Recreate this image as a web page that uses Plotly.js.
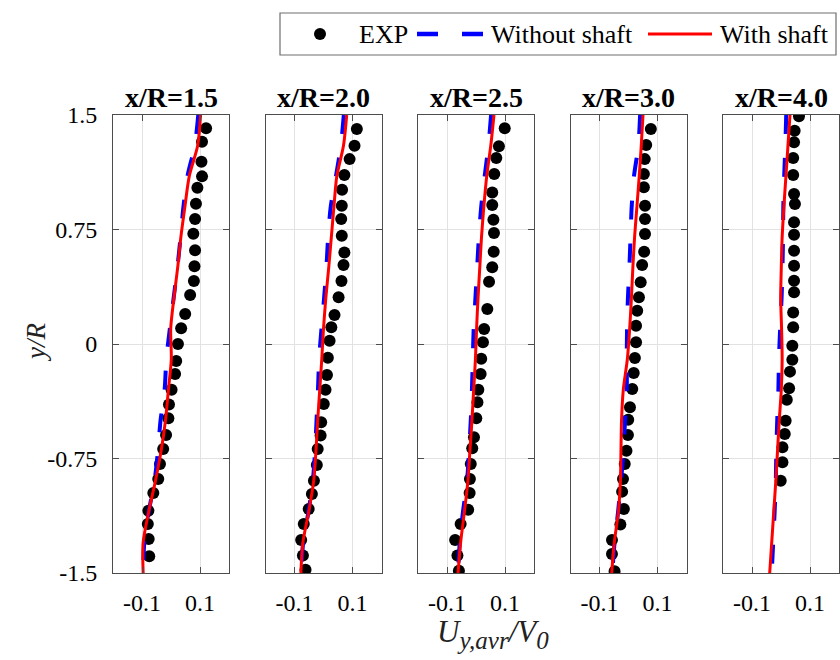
<!DOCTYPE html>
<html>
<head>
<meta charset="utf-8">
<script src="https://cdn.plot.ly/plotly-3.0.1.min.js"></script>
<style>
  html, body { margin: 0; padding: 0; background: #fff; }
  #chart { width: 840px; height: 660px; }
</style>
</head>
<body>
<div id="chart"></div>
<script>
// Downstream stations
const stations = ['x/R=1.5', 'x/R=2.0', 'x/R=2.5', 'x/R=3.0', 'x/R=4.0'];

// Axis ticks
const yTicks = [-1.5, -0.75, 0, 0.75, 1.5];
const yTickText = ['-1.5', '-0.75', '0', '0.75', '1.5'];
const xTicks = [-0.1, 0.1];
const xTickText = ['-0.1', '0.1'];

// Measured profiles (EXP): y/R and U_y,avr/V0
const expY1 = [1.413, 1.325, 1.194, 1.098, 1.024, 0.919, 0.819, 0.722, 0.614, 0.509, 0.413, 0.321, 0.196, 0.103, 0.0, -0.112, -0.196, -0.299, -0.397, -0.487, -0.596, -0.688, -0.786, -0.884, -0.976, -1.092, -1.179, -1.277, -1.391];
const expU1 = [0.121, 0.107, 0.105, 0.107, 0.091, 0.086, 0.083, 0.077, 0.083, 0.081, 0.079, 0.066, 0.049, 0.035, 0.024, 0.018, 0.014, 0.002, -0.007, -0.009, -0.017, -0.027, -0.038, -0.044, -0.061, -0.078, -0.080, -0.077, -0.075];

const expY2 = [1.408, 1.299, 1.211, 1.107, 1.011, 0.906, 0.819, 0.709, 0.600, 0.517, 0.413, 0.306, 0.190, 0.109, 0.022, -0.090, -0.203, -0.299, -0.393, -0.513, -0.600, -0.688, -0.792, -0.895, -0.982, -1.081, -1.179, -1.284, -1.386, -1.478];
const expU2 = [0.115, 0.107, 0.090, 0.072, 0.064, 0.063, 0.061, 0.063, 0.072, 0.069, 0.062, 0.052, 0.038, 0.027, 0.021, 0.015, 0.012, 0.007, 0.001, -0.008, -0.010, -0.020, -0.023, -0.033, -0.040, -0.051, -0.068, -0.077, -0.071, -0.062];

const expY3 = [1.413, 1.295, 1.218, 1.113, 0.993, 0.910, 0.814, 0.727, 0.604, 0.502, 0.408, 0.229, 0.098, 0.011, -0.097, -0.196, -0.299, -0.382, -0.487, -0.611, -0.683, -0.786, -0.884, -0.976, -1.085, -1.179, -1.284, -1.386, -1.485];
const expU3 = [0.099, 0.079, 0.070, 0.063, 0.056, 0.056, 0.060, 0.062, 0.061, 0.056, 0.045, 0.039, 0.028, 0.024, 0.018, 0.016, 0.008, 0.005, 0.001, -0.007, -0.013, -0.018, -0.021, -0.022, -0.027, -0.053, -0.072, -0.064, -0.059];

const expY4 = [1.408, 1.303, 1.211, 1.113, 1.026, 0.906, 0.819, 0.720, 0.604, 0.517, 0.404, 0.306, 0.218, 0.120, 0.011, -0.092, -0.190, -0.295, -0.415, -0.496, -0.596, -0.699, -0.786, -0.884, -0.967, -1.081, -1.183, -1.284, -1.375, -1.489];
const expU4 = [0.077, 0.061, 0.056, 0.053, 0.053, 0.057, 0.057, 0.057, 0.054, 0.047, 0.042, 0.036, 0.030, 0.026, 0.026, 0.022, 0.018, 0.013, 0.005, -0.001, -0.002, -0.007, -0.013, -0.019, -0.022, -0.016, -0.028, -0.057, -0.057, -0.048];

const expY5 = [1.491, 1.397, 1.321, 1.218, 1.107, 0.982, 0.917, 0.797, 0.716, 0.611, 0.513, 0.415, 0.339, 0.207, 0.109, -0.011, -0.103, -0.181, -0.290, -0.365, -0.502, -0.589, -0.677, -0.775, -0.895];
const expU5 = [0.062, 0.047, 0.045, 0.042, 0.042, 0.045, 0.048, 0.045, 0.045, 0.045, 0.045, 0.045, 0.045, 0.042, 0.042, 0.039, 0.039, 0.031, 0.028, 0.020, 0.016, 0.013, 0.005, 0.005, -0.001];

// Simulated profiles, sampled at these y/R stations
const modelY = [1.5, 1.3, 1.1, 0.9, 0.7, 0.5, 0.3, 0.1, -0.1, -0.3, -0.5, -0.7, -0.9, -1.1, -1.3, -1.5];

const noShaftU1 = [0.094, 0.082, 0.057, 0.043, 0.033, 0.022, 0.009, -0.004, -0.016, -0.022, -0.036, -0.045, -0.057, -0.077, -0.092, -0.096];
const withShaftU1 = [0.102, 0.092, 0.063, 0.048, 0.034, 0.023, 0.010, -0.001, 0.001, -0.009, -0.019, -0.034, -0.054, -0.077, -0.096, -0.096];

const noShaftU2 = [0.070, 0.060, 0.043, 0.025, 0.016, 0.010, 0.002, -0.007, -0.015, -0.019, -0.024, -0.029, -0.037, -0.052, -0.070, -0.077];
const withShaftU2 = [0.080, 0.069, 0.046, 0.036, 0.027, 0.018, 0.008, 0.000, -0.006, -0.013, -0.020, -0.026, -0.034, -0.051, -0.071, -0.078];

const noShaftU3 = [0.052, 0.043, 0.030, 0.018, 0.010, 0.004, -0.002, -0.008, -0.011, -0.014, -0.018, -0.024, -0.031, -0.045, -0.056, -0.062];
const withShaftU3 = [0.062, 0.051, 0.037, 0.027, 0.019, 0.013, 0.007, 0.002, -0.002, -0.008, -0.014, -0.021, -0.028, -0.040, -0.053, -0.062];

const noShaftU4 = [0.040, 0.034, 0.019, 0.011, 0.007, 0.003, -0.002, -0.005, -0.006, -0.006, -0.012, -0.017, -0.026, -0.036, -0.048, -0.056];
const withShaftU4 = [0.050, 0.044, 0.037, 0.029, 0.021, 0.015, 0.010, 0.004, -0.004, -0.018, -0.024, -0.026, -0.028, -0.035, -0.049, -0.058];

const noShaftU5 = [0.018, 0.015, 0.011, 0.008, 0.007, 0.005, 0.002, -0.003, -0.007, -0.009, -0.013, -0.016, -0.018, -0.022, -0.027, -0.032];
const withShaftU5 = [0.031, 0.024, 0.017, 0.010, 0.004, 0.001, -0.001, 0.002, 0.004, 0.001, -0.006, -0.012, -0.018, -0.025, -0.032, -0.039];

const expY = [expY1, expY2, expY3, expY4, expY5];
const expU = [expU1, expU2, expU3, expU4, expU5];
const noShaftU = [noShaftU1, noShaftU2, noShaftU3, noShaftU4, noShaftU5];
const withShaftU = [withShaftU1, withShaftU2, withShaftU3, withShaftU4, withShaftU5];

// Page geometry (pixels)
const W = 840, H = 660;
const panelLeft0 = 113, panelStep = 152.5, panelWidth = 116;
const plotTop = 115, plotBottom = 573;
const px = v => v / W;
const py = v => 1 - v / H;

const serif = 'Liberation Serif';
const ink = '#000000';
const frame = '#4d4d4d';
const grid = '#e2e2e2';
const blue = '#0000ff';
const red = '#ff0000';

const traces = [];
const layout = {
  width: W, height: H,
  margin: {l: 0, r: 0, t: 0, b: 0, pad: 0},
  paper_bgcolor: '#ffffff',
  plot_bgcolor: '#ffffff',
  showlegend: false,
  font: {family: serif, color: ink},
  annotations: [],
  shapes: []
};

stations.forEach((name, i) => {
  const n = i === 0 ? '' : String(i + 1);
  const xa = 'x' + n, ya = 'y' + n;
  const left = panelLeft0 + i * panelStep;

  traces.push({
    type: 'scatter', mode: 'markers', name: 'EXP',
    x: expU[i], y: expY[i], xaxis: xa, yaxis: ya,
    marker: {color: '#000000', size: 12, line: {width: 0}},
    hoverinfo: 'skip'
  });
  traces.push({
    type: 'scatter', mode: 'lines', name: 'Without shaft',
    x: noShaftU[i], y: modelY, xaxis: xa, yaxis: ya,
    line: {color: blue, width: 4, dash: '19px,24px', shape: 'spline', smoothing: 0.8},
    hoverinfo: 'skip'
  });
  traces.push({
    type: 'scatter', mode: 'lines', name: 'With shaft',
    x: withShaftU[i], y: modelY, xaxis: xa, yaxis: ya,
    line: {color: red, width: 3, shape: 'spline', smoothing: 0.8},
    hoverinfo: 'skip'
  });

  layout['xaxis' + n] = {
    domain: [px(left), px(left + panelWidth)],
    anchor: ya,
    range: [-0.2, 0.2],
    tickmode: 'array', tickvals: xTicks, ticktext: xTickText,
    ticks: 'inside', ticklen: 6, tickwidth: 1, tickcolor: frame,
    showline: true, linecolor: frame, linewidth: 1, mirror: 'ticks',
    showgrid: true, gridcolor: grid, gridwidth: 1,
    zeroline: false,
    tickfont: {family: serif, size: 24, color: ink},
    ticklabelstandoff: 8,
    fixedrange: true
  };
  layout['yaxis' + n] = {
    domain: [py(plotBottom), py(plotTop)],
    anchor: xa,
    range: [-1.5, 1.5],
    tickmode: 'array', tickvals: yTicks, ticktext: yTickText,
    showticklabels: i === 0,
    ticks: 'inside', ticklen: 6, tickwidth: 1, tickcolor: frame,
    showline: true, linecolor: frame, linewidth: 1, mirror: 'ticks',
    showgrid: true, gridcolor: grid, gridwidth: 1,
    zeroline: false,
    tickfont: {family: serif, size: 24, color: ink},
    ticklabelstandoff: 10,
    fixedrange: true
  };

  // station title above each panel
  layout.annotations.push({
    xref: 'paper', yref: 'paper',
    x: px(left + panelWidth / 2), y: py(plotTop),
    xanchor: 'center', yanchor: 'bottom', yshift: 0,
    text: '<b>' + name + '</b>', showarrow: false,
    font: {family: serif, size: 28, color: ink}
  });
});

// Axis titles
layout.annotations.push({
  xref: 'paper', yref: 'paper',
  x: px(493), y: py(634), xanchor: 'center', yanchor: 'middle',
  text: '<i>U</i><sub><span style="font-size:25px"><i>y,avr</i></span></sub><i>/V</i><sub><span style="font-size:25px"><i>0</i></span></sub>',
  showarrow: false,
  font: {family: serif, size: 31, color: '#222'}
});
layout.annotations.push({
  xref: 'paper', yref: 'paper',
  x: px(36), y: py(343), xanchor: 'center', yanchor: 'middle',
  text: '<i>y/R</i>', textangle: -90,
  showarrow: false,
  font: {family: serif, size: 27, color: '#222'}
});

// Legend box
const legY = 34;
layout.shapes.push({
  type: 'rect', xref: 'paper', yref: 'paper',
  x0: px(280), x1: px(836), y0: py(55), y1: py(13),
  line: {color: '#6e6e6e', width: 1.2}, fillcolor: '#ffffff', layer: 'above'
});
layout.shapes.push({
  type: 'circle', xref: 'paper', yref: 'paper',
  x0: px(314), x1: px(326), y0: py(legY + 6), y1: py(legY - 6),
  line: {width: 0}, fillcolor: '#000000', layer: 'above'
});
layout.shapes.push({
  type: 'line', xref: 'paper', yref: 'paper',
  x0: px(417), x1: px(484), y0: py(legY), y1: py(legY),
  line: {color: blue, width: 4.5, dash: '21px,24px'}, layer: 'above'
});
layout.shapes.push({
  type: 'line', xref: 'paper', yref: 'paper',
  x0: px(648), x1: px(712), y0: py(legY), y1: py(legY),
  line: {color: red, width: 3}, layer: 'above'
});
const legendLabels = [['EXP', 357], ['Without shaft', 489], ['With shaft', 718]];
legendLabels.forEach(([label, x]) => {
  layout.annotations.push({
    xref: 'paper', yref: 'paper',
    x: px(x), y: py(legY), xanchor: 'left', yanchor: 'middle',
    text: label, showarrow: false,
    font: {family: serif, size: 26, color: ink}
  });
});

Plotly.newPlot('chart', traces, layout, {staticPlot: true, displayModeBar: false});
</script>
</body>
</html>
